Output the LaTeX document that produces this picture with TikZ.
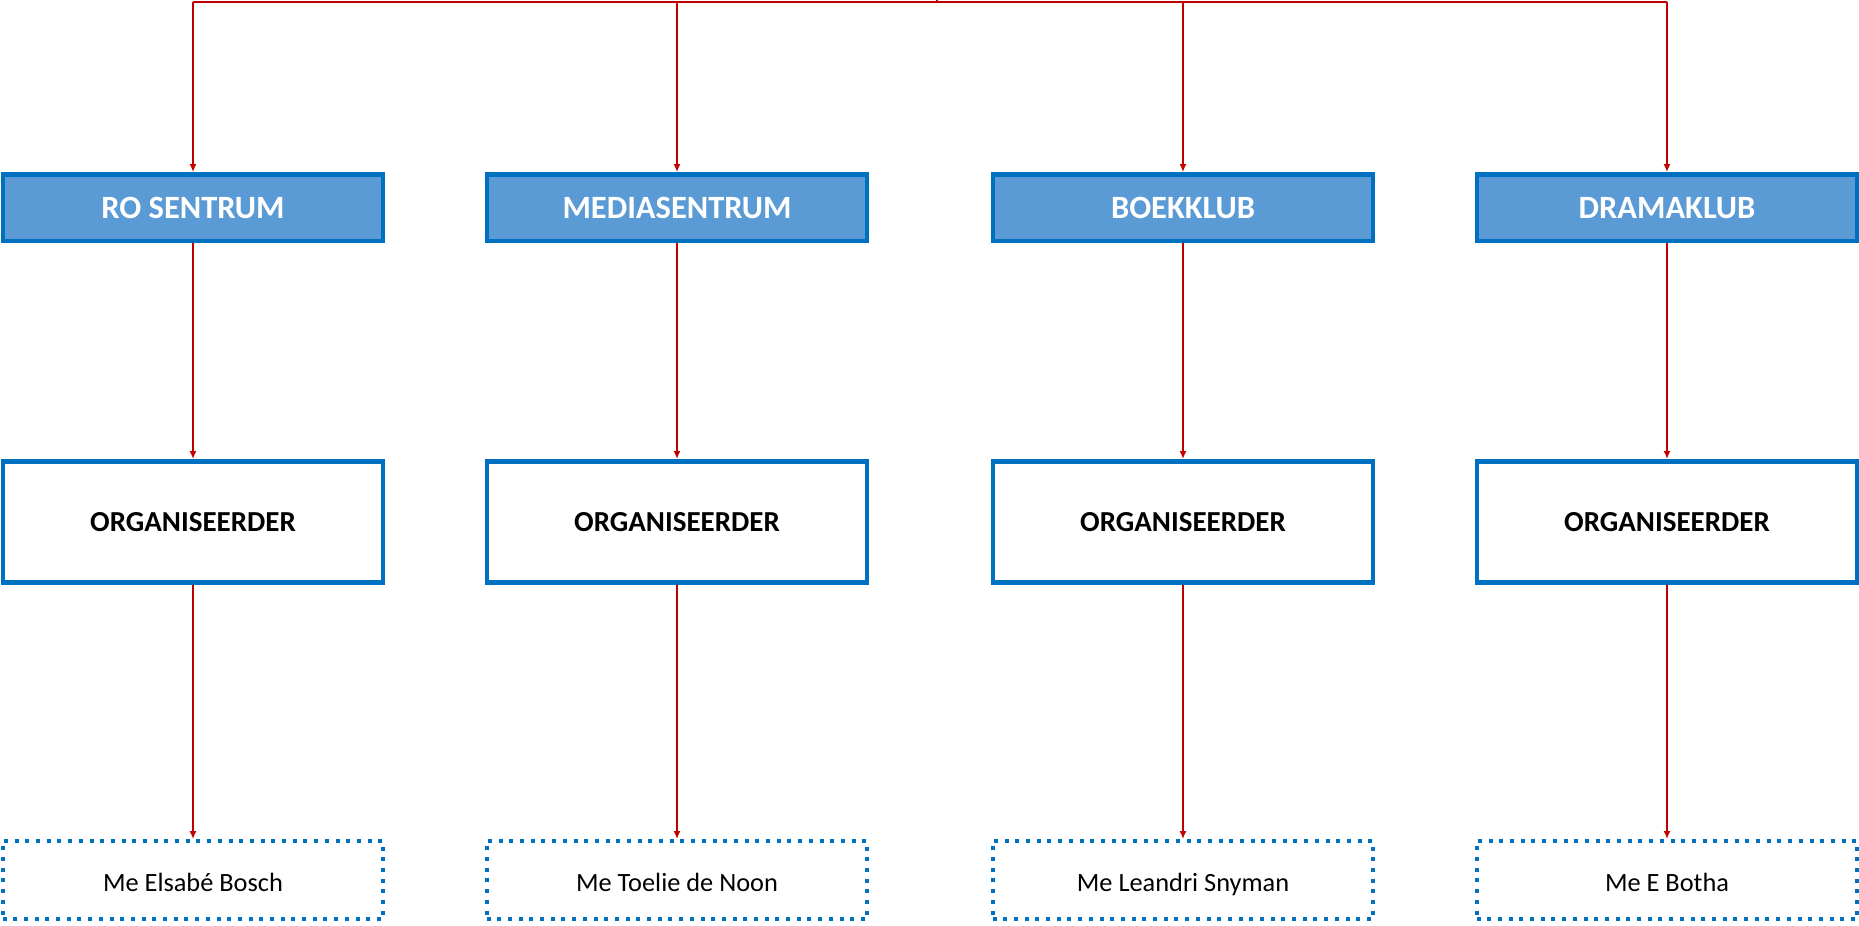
\documentclass[tikz,border=0pt]{standalone}
\usepackage{fontspec}
\setmainfont{Carlito}
\usetikzlibrary{arrows.meta}
\definecolor{boxblue}{HTML}{0070C0}
\definecolor{fillblue}{HTML}{5B9BD5}
\definecolor{linkred}{HTML}{C00000}
\begin{document}
\begin{tikzpicture}[x=0.02cm, y=-0.02cm]

      \tikzset{unitbox/.style={draw=boxblue, fill=fillblue, line width=0.09cm, minimum width=7.6cm, minimum height=1.336cm, inner sep=0pt, text=white, font=\fontsize{18.5}{22}\selectfont\bfseries}}
      \tikzset{rolebox/.style={draw=boxblue, fill=white, line width=0.094cm, minimum width=7.6cm, minimum height=2.426cm, inner sep=0pt, font=\fontsize{16.5}{20}\selectfont\bfseries}}
      \tikzset{namebox/.style={draw=boxblue, line width=0.08cm, dash pattern=on 0.08cm off 0.134cm, minimum width=7.62cm, minimum height=1.56cm, inner sep=0pt, text height=2.7ex, text depth=0pt, font=\fontsize{15}{18}\selectfont}}
      \tikzset{link/.style={draw=linkred, line width=0.04cm, -{Latex[length=0.16cm,width=0.14cm]}}}
      \tikzset{bus/.style={draw=linkred, line width=0.05cm}}

      \useasboundingbox (0,0) rectangle (1859,926);
% Nodes
	%Bus
      	\coordinate (top) at (937,0);
      	\coordinate (hub) at (937,2);
      	\coordinate (k1) at (193,2);
      	\coordinate (k2) at (677,2);
      	\coordinate (k3) at (1183,2);
      	\coordinate (k4) at (1667,2);
	%Eenhede
      	\node[unitbox] (u1) at (193,207.7) {RO SENTRUM};
      	\node[unitbox] (u2) at (677,207.7) {MEDIASENTRUM};
      	\node[unitbox] (u3) at (1183,207.7) {BOEKKLUB};
      	\node[unitbox] (u4) at (1667,207.7) {DRAMAKLUB};
	%Organiseerders
      	\node[rolebox] (o1) at (193,522) {ORGANISEERDER};
      	\node[rolebox] (o2) at (677,522) {ORGANISEERDER};
      	\node[rolebox] (o3) at (1183,522) {ORGANISEERDER};
      	\node[rolebox] (o4) at (1667,522) {ORGANISEERDER};
	%Name
      	\node[namebox] (n1) at (193,880) {Me Elsabé Bosch};
      	\node[namebox] (n2) at (677,880) {Me Toelie de Noon};
      	\node[namebox] (n3) at (1183,880) {Me Leandri Snyman};
      	\node[namebox] (n4) at (1667,880) {Me E Botha};
%Edges
	%Bus
		\draw[bus] (top) -- (hub);
		\draw[bus] (k1) -- (k4);
	%Eenhede
		\path (k1) edge[link] (u1);
		\path (k2) edge[link] (u2);
		\path (k3) edge[link] (u3);
		\path (k4) edge[link] (u4);
	%Organiseerders
		\path (u1) edge[link] (o1);
		\path (u2) edge[link] (o2);
		\path (u3) edge[link] (o3);
		\path (u4) edge[link] (o4);
	%Name
		\path (o1) edge[link] (n1);
		\path (o2) edge[link] (n2);
		\path (o3) edge[link] (n3);
		\path (o4) edge[link] (n4);

\end{tikzpicture}
\end{document}
